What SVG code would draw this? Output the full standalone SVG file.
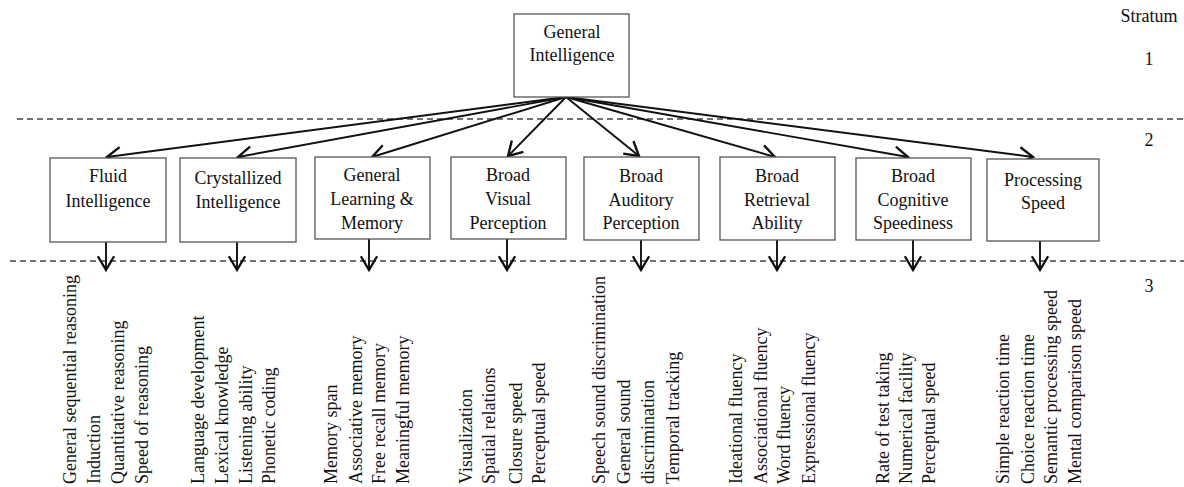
<svg xmlns="http://www.w3.org/2000/svg" width="1184" height="487" viewBox="0 0 1184 487">
<style>
text{font-family:"Liberation Serif","Times New Roman",serif;font-size:18px;fill:#111}
.c{text-anchor:middle}
.box{fill:#fff;stroke:#555;stroke-width:1.3}
.dash{stroke:#444;stroke-width:1.4;stroke-dasharray:6 4;fill:none}
.arr{stroke:#111;stroke-width:1.9;fill:none;marker-end:url(#ah)}
</style>
<defs>
<marker id="ah" markerUnits="userSpaceOnUse" markerWidth="20" markerHeight="20" viewBox="-12 -8 14 16" refX="0" refY="0" orient="auto">
<path d="M-11,-6.5 L0,0 L-11,6.5" fill="none" stroke="#111" stroke-width="1.9"/>
</marker>
</defs>
<rect width="1184" height="487" fill="#fff"/>
<g id="strata">
<line class="dash" x1="17" y1="119" x2="1184" y2="119"/>
<line class="dash" x1="10" y1="261" x2="1184" y2="261"/>
<text class="c" x="1149" y="22">Stratum</text>
<text class="c" x="1149" y="65">1</text>
<text class="c" x="1149" y="146">2</text>
<text class="c" x="1149" y="292">3</text>
</g>
<g id="connectors">
<line class="arr" x1="566" y1="97" x2="107" y2="157"/>
<line class="arr" x1="566" y1="97" x2="238" y2="157"/>
<line class="arr" x1="566" y1="97" x2="372" y2="157"/>
<line class="arr" x1="566" y1="97" x2="508" y2="156"/>
<line class="arr" x1="566" y1="97" x2="639" y2="156"/>
<line class="arr" x1="566" y1="97" x2="775" y2="157"/>
<line class="arr" x1="566" y1="97" x2="908" y2="157"/>
<line class="arr" x1="566" y1="97" x2="1033" y2="157"/>
<line class="arr" x1="106" y1="242" x2="106" y2="270"/>
<line class="arr" x1="237" y1="242" x2="237" y2="270"/>
<line class="arr" x1="369" y1="239" x2="369" y2="270"/>
<line class="arr" x1="507" y1="239" x2="507" y2="270"/>
<line class="arr" x1="641" y1="240" x2="641" y2="270"/>
<line class="arr" x1="777" y1="240" x2="777" y2="270"/>
<line class="arr" x1="913" y1="240" x2="913" y2="270"/>
<line class="arr" x1="1040" y1="241" x2="1040" y2="270"/>
</g>
<g id="n0"><rect class="box" x="514" y="14" width="115" height="83"/><text class="c" x="572" y="38">General</text><text class="c" x="572" y="61">Intelligence</text></g>
<g id="n1"><rect class="box" x="50" y="158" width="116" height="84"/><text class="c" x="108" y="182">Fluid</text><text class="c" x="108" y="207">Intelligence</text></g>
<g id="n2"><rect class="box" x="180" y="158" width="116" height="84"/><text class="c" x="238" y="184">Crystallized</text><text class="c" x="238" y="208">Intelligence</text></g>
<g id="n3"><rect class="box" x="315" y="157" width="115" height="82"/><text class="c" x="372" y="181">General</text><text class="c" x="372" y="205">Learning &amp;</text><text class="c" x="372" y="229">Memory</text></g>
<g id="n4"><rect class="box" x="451" y="157" width="115" height="82"/><text class="c" x="508" y="181">Broad</text><text class="c" x="508" y="205">Visual</text><text class="c" x="508" y="229">Perception</text></g>
<g id="n5"><rect class="box" x="584" y="157" width="115" height="83"/><text class="c" x="641" y="182">Broad</text><text class="c" x="641" y="206">Auditory</text><text class="c" x="641" y="229">Perception</text></g>
<g id="n6"><rect class="box" x="720" y="157" width="115" height="83"/><text class="c" x="777" y="182">Broad</text><text class="c" x="777" y="206">Retrieval</text><text class="c" x="777" y="229">Ability</text></g>
<g id="n7"><rect class="box" x="856" y="158" width="115" height="82"/><text class="c" x="913" y="182">Broad</text><text class="c" x="913" y="206">Cognitive</text><text class="c" x="913" y="229">Speediness</text></g>
<g id="n8"><rect class="box" x="987" y="159" width="112" height="82"/><text class="c" x="1043" y="186">Processing</text><text class="c" x="1043" y="209">Speed</text></g>
<g id="s1">
<text transform="translate(76,484) rotate(-90)">General sequential reasoning</text>
<text transform="translate(100,484) rotate(-90)">Induction</text>
<text transform="translate(124,484) rotate(-90)">Quantitative reasoning</text>
<text transform="translate(148,484) rotate(-90)">Speed of reasoning</text>
</g>
<g id="s2">
<text transform="translate(204,484) rotate(-90)">Language development</text>
<text transform="translate(228,484) rotate(-90)">Lexical knowledge</text>
<text transform="translate(252,484) rotate(-90)">Listening ability</text>
<text transform="translate(275,484) rotate(-90)">Phonetic coding</text>
</g>
<g id="s3">
<text transform="translate(337,484) rotate(-90)">Memory span</text>
<text transform="translate(362,484) rotate(-90)">Associative memory</text>
<text transform="translate(385,484) rotate(-90)">Free recall memory</text>
<text transform="translate(409,484) rotate(-90)">Meaningful memory</text>
</g>
<g id="s4">
<text transform="translate(472,484) rotate(-90)">Visualization</text>
<text transform="translate(495,484) rotate(-90)">Spatial relations</text>
<text transform="translate(522,484) rotate(-90)">Closure speed</text>
<text transform="translate(545,484) rotate(-90)">Perceptual speed</text>
</g>
<g id="s5">
<text transform="translate(605,484) rotate(-90)">Speech sound discrimination</text>
<text transform="translate(630,484) rotate(-90)">General sound</text>
<text transform="translate(654,484) rotate(-90)">discrimination</text>
<text transform="translate(679,484) rotate(-90)">Temporal tracking</text>
</g>
<g id="s6">
<text transform="translate(742,484) rotate(-90)">Ideational fluency</text>
<text transform="translate(767,484) rotate(-90)">Associational fluency</text>
<text transform="translate(790,484) rotate(-90)">Word fluency</text>
<text transform="translate(815,484) rotate(-90)">Expressional fluency</text>
</g>
<g id="s7">
<text transform="translate(889,484) rotate(-90)">Rate of test taking</text>
<text transform="translate(912,484) rotate(-90)">Numerical facility</text>
<text transform="translate(935,484) rotate(-90)">Perceptual speed</text>
</g>
<g id="s8">
<text transform="translate(1009,484) rotate(-90)">Simple reaction time</text>
<text transform="translate(1034,484) rotate(-90)">Choice reaction time</text>
<text transform="translate(1057,484) rotate(-90)">Semantic processing speed</text>
<text transform="translate(1081,484) rotate(-90)">Mental comparison speed</text>
</g>
</svg>
